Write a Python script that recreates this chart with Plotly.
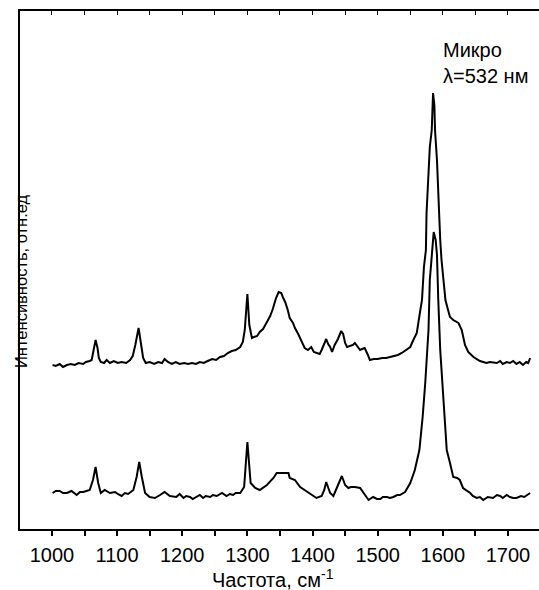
import plotly.graph_objects as go

# Upper spectrum (wavenumber, cm^-1) and intensity (arb. units)
upper_wavenumber = [
    1001, 1006, 1012, 1017, 1023, 1029, 1035, 1041, 1048, 1052,
    1058, 1061, 1064, 1067, 1070, 1072, 1075, 1080, 1084, 1089,
    1095, 1101, 1107, 1114, 1120, 1124, 1128, 1133, 1137, 1140,
    1144, 1150, 1157, 1163, 1169, 1173, 1178, 1184, 1190, 1196,
    1203, 1209, 1215, 1221, 1227, 1233, 1239, 1246, 1252, 1258,
    1264, 1270, 1276, 1282, 1289, 1293, 1296, 1300, 1303, 1307,
    1310, 1315, 1319, 1324, 1330, 1335, 1339, 1344, 1348, 1352,
    1355, 1358, 1362, 1365, 1370, 1373, 1378, 1381, 1385, 1388,
    1393, 1398, 1402, 1407, 1411, 1414, 1418, 1421, 1424, 1427,
    1430, 1434, 1439, 1444, 1447, 1450, 1453, 1457, 1462, 1465,
    1470, 1473, 1476, 1480, 1485, 1488, 1494, 1500, 1507, 1513,
    1519, 1525, 1531, 1537, 1543, 1550, 1554, 1560, 1565, 1568,
    1571, 1574, 1575, 1578, 1580, 1583, 1584, 1585, 1587, 1588,
    1591, 1593, 1596, 1598, 1601, 1604, 1608, 1611, 1616, 1624,
    1629, 1634, 1639, 1647, 1657, 1667, 1672, 1683, 1688, 1692,
    1698, 1703, 1708, 1713, 1718, 1723, 1728, 1731, 1734,
]
upper_intensity = [
    163, 162, 164, 161, 163, 164, 163, 165, 164, 166,
    167, 168, 178, 188, 180, 170, 166, 165, 168, 165,
    167, 165, 166, 165, 168, 172, 183, 200, 183, 170,
    165, 166, 164, 166, 165, 169, 166, 164, 166, 164,
    165, 164, 165, 164, 166, 165, 167, 169, 168, 171,
    172, 175, 177, 178, 181, 186, 198, 234, 203, 190,
    191, 192, 196, 199, 206, 212, 219, 230, 236, 235,
    230, 226, 218, 210, 205, 200, 194, 190, 184, 180,
    178, 181, 176, 175, 174, 178, 185, 189, 184, 181,
    176, 183, 189, 197, 194, 185, 181, 182, 183, 185,
    181, 178, 179, 180, 173, 168, 169, 169, 170, 170,
    171, 172, 173, 175, 178, 181, 187, 195, 216, 228,
    261, 278, 315, 348, 381, 398, 423, 435, 423, 398,
    368, 328, 288, 268, 248, 228, 218, 211, 208, 205,
    198, 183, 176, 171, 167, 165, 166, 165, 167, 164,
    166, 165, 167, 164, 166, 163, 166, 165, 170,
]

# Lower spectrum
lower_wavenumber = [
    1001, 1006, 1012, 1017, 1023, 1030, 1038, 1043, 1048, 1054,
    1058, 1063, 1067, 1071, 1075, 1081, 1089, 1097, 1101, 1107,
    1112, 1117, 1125, 1130, 1134, 1138, 1143, 1150, 1158, 1166,
    1173, 1181, 1191, 1196, 1202, 1206, 1212, 1216, 1222, 1227,
    1232, 1236, 1243, 1247, 1253, 1261, 1268, 1273, 1278, 1282,
    1289, 1295, 1300, 1305, 1312, 1319, 1330, 1340, 1345, 1350,
    1355, 1363, 1365, 1373, 1381, 1388, 1399, 1406, 1414, 1418,
    1421, 1424, 1427, 1432, 1436, 1440, 1445, 1450, 1455, 1459,
    1465, 1473, 1480, 1486, 1493, 1499, 1504, 1508, 1514, 1519,
    1524, 1530, 1534, 1542, 1550, 1557, 1564, 1569, 1573, 1576,
    1578, 1580, 1583, 1584, 1586, 1589, 1591, 1593, 1596, 1601,
    1606, 1611, 1616, 1622, 1626, 1631, 1636, 1642, 1646, 1652,
    1657, 1662, 1669, 1677, 1683, 1688, 1692, 1698, 1703, 1708,
    1713, 1720, 1725, 1729, 1734,
]
lower_intensity = [
    35, 37, 37, 35, 35, 37, 33, 36, 36, 37,
    38, 48, 61, 45, 35, 38, 35, 36, 34, 32,
    35, 34, 38, 51, 66, 51, 35, 31, 30, 33,
    36, 32, 31, 34, 30, 32, 31, 29, 31, 33,
    30, 32, 31, 33, 32, 35, 32, 34, 33, 35,
    35, 41, 86, 45, 40, 38, 43, 50, 55, 55,
    55, 55, 50, 48, 41, 38, 33, 30, 32, 38,
    46, 40, 35, 32, 38, 45, 52, 43, 40, 41,
    41, 40, 33, 28, 31, 29, 29, 31, 31, 30,
    31, 33, 33, 36, 45, 58, 78, 111, 145, 178,
    198, 248, 273, 288, 296, 288, 273, 228, 178, 128,
    78, 65, 51, 50, 48, 40, 38, 35, 32, 30,
    31, 28, 31, 30, 33, 32, 30, 33, 31, 30,
    30, 32, 31, 33, 35,
]

x_ticks = [1000, 1100, 1200, 1300, 1400, 1500, 1600, 1700]
x_minor_ticks = [950, 1050, 1150, 1250, 1350, 1450, 1550, 1650]
x_title = "Частота, см<sup>-1</sup>"
y_title = "Интенсивность, отн.ед"
label_lines = ["Микро", "λ=532 нм"]

FONT = "Liberation Sans, Arial, sans-serif"
W, H = 539, 590
ML, MR, MT, MB = 20, 0, 11, 61
X_RANGE = [951, 1747.6]
Y_RANGE = [-1, 517]

fig = go.Figure()
fig.add_trace(go.Scatter(x=upper_wavenumber, y=upper_intensity, mode="lines",
                         line=dict(color="black", width=2), xaxis="x", yaxis="y"))
fig.add_trace(go.Scatter(x=lower_wavenumber, y=lower_intensity, mode="lines",
                         line=dict(color="black", width=2), xaxis="x2", yaxis="y"))

plot_w = W - ML - MR
plot_h = H - MT - MB


def px_to_paper_x(px):
    return (px - ML) / plot_w


def px_to_paper_y(py):
    return (H - MB - py) / plot_h


fig.update_layout(
    width=W, height=H,
    margin=dict(l=ML, r=MR, t=MT, b=MB, pad=0),
    paper_bgcolor="white", plot_bgcolor="white",
    showlegend=False,
    font=dict(family=FONT, size=20, color="black"),
    xaxis=dict(
        range=X_RANGE, showline=True, linecolor="black", linewidth=1.5,
        ticks="outside", ticklen=5, tickwidth=1.5, tickcolor="black",
        tickvals=x_ticks, tickfont=dict(family=FONT, size=20, color="black"),
        ticklabelstandoff=2,
        minor=dict(tickvals=x_minor_ticks,
                   ticks="outside", ticklen=5, tickwidth=1.5, tickcolor="black"),
        showgrid=False, zeroline=False, mirror=False,
    ),
    xaxis2=dict(
        range=X_RANGE, overlaying="x", side="top", matches="x",
        showline=True, linecolor="black", linewidth=1.5,
        ticks="inside", ticklen=4, tickwidth=1, tickcolor="black",
        tick0=1000, dtick=50, showticklabels=False,
        showgrid=False, zeroline=False,
    ),
    yaxis=dict(
        range=Y_RANGE, showline=True, linecolor="black", linewidth=1.5,
        showticklabels=False, ticks="", showgrid=False, zeroline=False,
    ),
    annotations=[
        dict(text=x_title, xref="paper", yref="paper",
             x=px_to_paper_x(273), y=px_to_paper_y(578),
             xanchor="center", yanchor="middle", showarrow=False,
             font=dict(family=FONT, size=20, color="black")),
        dict(text=y_title, xref="paper", yref="paper", textangle=-90,
             x=px_to_paper_x(21), y=px_to_paper_y(281),
             xanchor="center", yanchor="middle", showarrow=False,
             font=dict(family=FONT, size=16.5, color="black")),
        dict(text=label_lines[0], xref="paper", yref="paper",
             x=px_to_paper_x(441), y=px_to_paper_y(50),
             xanchor="left", yanchor="middle", showarrow=False,
             font=dict(family=FONT, size=20, color="black")),
        dict(text=label_lines[1], xref="paper", yref="paper",
             x=px_to_paper_x(441), y=px_to_paper_y(75.5),
             xanchor="left", yanchor="middle", showarrow=False,
             font=dict(family=FONT, size=20, color="black")),
    ],
)

fig.write_html("out.html")
